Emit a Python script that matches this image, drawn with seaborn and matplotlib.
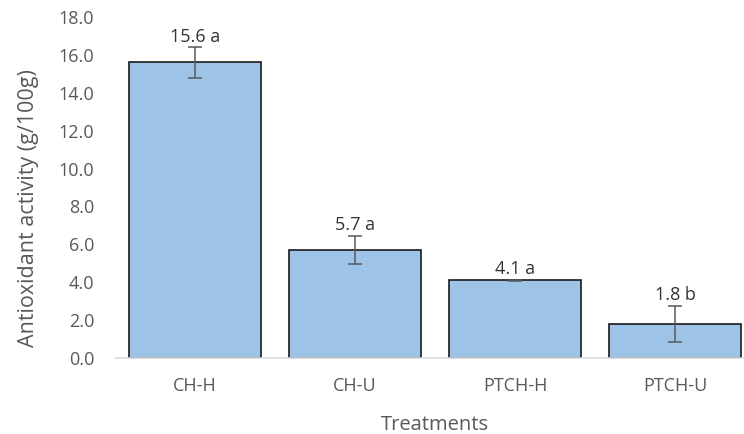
import matplotlib
matplotlib.use("Agg")
import matplotlib.pyplot as plt
import seaborn as sns
import pandas as pd

treatments = ["CH-H", "CH-U", "PTCH-H", "PTCH-U"]
values = [15.6, 5.7, 4.1, 1.8]
errors = [0.8, 0.75, 0.02, 0.96]
letters = ["a", "a", "a", "b"]
yticks = [0, 2, 4, 6, 8, 10, 12, 14, 16, 18]

sns.set_theme(style="white")
plt.rcParams['font.family'] = ['Open Sans', 'DejaVu Sans']

df = pd.DataFrame({"Treatment": treatments, "Value": values})

fig = plt.figure(figsize=(7.44, 4.34), dpi=100)
ax = fig.add_axes([115/744, 1 - 358/434, 640/744, 341/434])

sns.barplot(data=df, x="Treatment", y="Value", ax=ax, color="#9DC3E6",
            saturation=1, width=0.83, edgecolor="#1a1a1a", linewidth=1.2, errorbar=None)
ax.errorbar(range(len(values)), values, yerr=errors, fmt="none",
            ecolor="#595959", elinewidth=1.1, capsize=5, capthick=1.1)

for i, (v, e, l) in enumerate(zip(values, errors, letters)):
    ax.annotate(f"{v:.1f} {l}", xy=(i, v + e), xytext=(0, 4), textcoords="offset points",
                ha="center", va="baseline", fontsize=13, color="#333333")

ax.set_ylim(0, 18)
ax.set_xlim(-0.5, 3.5)
ax.set_yticks(yticks)
ax.set_yticklabels([f"{t:.1f}" for t in yticks])
for s in ["top", "right", "left"]:
    ax.spines[s].set_visible(False)
ax.spines["bottom"].set_color("#D9D9D9")
ax.spines["bottom"].set_linewidth(1.2)
ax.tick_params(axis="both", length=0, labelsize=13, labelcolor="#595959")
ax.tick_params(axis="y", pad=15)
ax.tick_params(axis="x", pad=14)
ax.set_xlabel("Treatments", fontsize=14.5, color="#595959", labelpad=14)
ax.set_ylabel("Antioxidant activity (g/100g)", fontsize=15.5, color="#595959",
              labelpad=14, y=0.44)

fig.savefig("out.png", dpi=100)
